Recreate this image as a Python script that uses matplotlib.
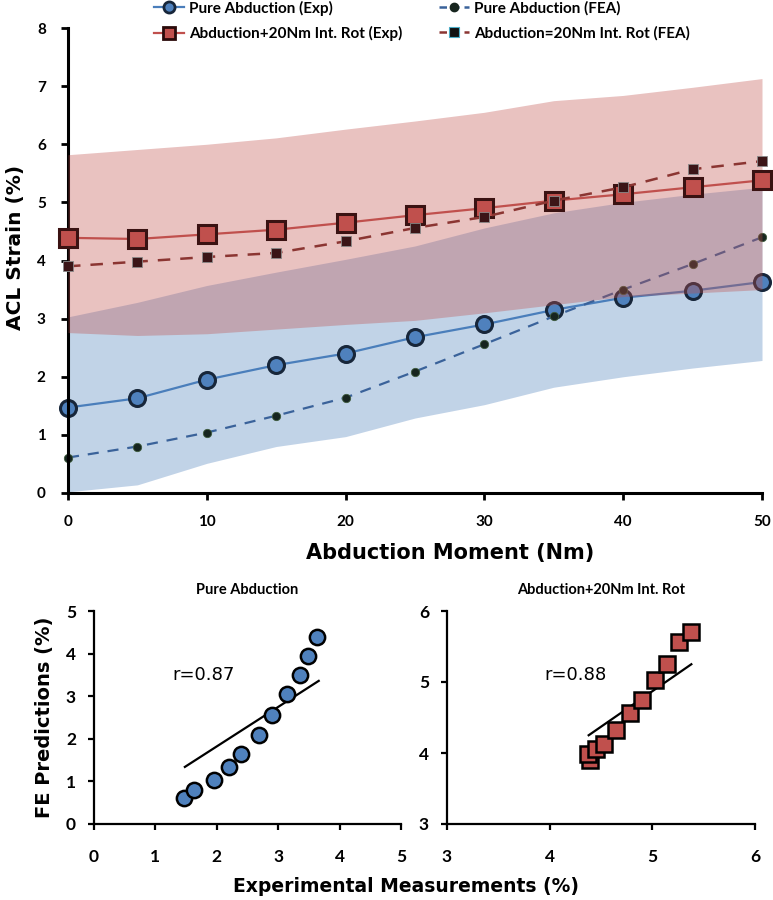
import numpy as np
import matplotlib
matplotlib.use('Agg')
import matplotlib.pyplot as plt
from matplotlib.lines import Line2D

# abduction moment (Nm)
moment = [0, 5, 10, 15, 20, 25, 30, 35, 40, 45, 50]

# pure abduction
pure_exp = [1.47, 1.63, 1.95, 2.20, 2.40, 2.68, 2.90, 3.15, 3.36, 3.48, 3.63]
pure_fea = [0.61, 0.80, 1.04, 1.33, 1.64, 2.09, 2.56, 3.04, 3.50, 3.94, 4.40]
pure_lo = [0.02, 0.14, 0.51, 0.80, 0.97, 1.29, 1.52, 1.82, 2.00, 2.15, 2.28]
pure_hi = [3.03, 3.28, 3.57, 3.80, 4.02, 4.25, 4.56, 4.82, 5.00, 5.14, 5.26]

# abduction + 20Nm internal rotation
rot_exp = [4.39, 4.37, 4.45, 4.53, 4.65, 4.78, 4.90, 5.03, 5.14, 5.26, 5.38]
rot_fea = [3.90, 3.98, 4.06, 4.13, 4.33, 4.56, 4.75, 5.03, 5.26, 5.57, 5.71]
rot_lo = [2.76, 2.71, 2.74, 2.82, 2.90, 2.97, 3.10, 3.24, 3.38, 3.44, 3.50]
rot_hi = [5.82, 5.91, 6.00, 6.11, 6.26, 6.40, 6.55, 6.75, 6.84, 6.98, 7.13]

# trend lines drawn in the correlation plots (end points)
pure_line_x = [1.48, 3.66]
pure_line_y = [1.34, 3.36]
rot_line_x = [4.38, 5.38]
rot_line_y = [4.25, 5.25]
pure_r = 'r=0.87'
rot_r = 'r=0.88'

BLUE = '#4f81bd'
RED = '#c0504d'
tick_font = ['Lato', 'DejaVu Sans']

fig = plt.figure(figsize=(7.73, 9.0), dpi=100)

# ---------- top chart ----------
ax = fig.add_axes([68 / 773, 1 - 493 / 900, 694 / 773, 465 / 900])

ax.fill_between(moment, pure_lo, pure_hi, color=BLUE, alpha=0.35, lw=0, zorder=1)
ax.plot(moment, pure_exp, color='#4a7ebb', lw=1.6, marker='o', ms=11.5,
        mfc=BLUE, mec='#17263a', mew=2.2, clip_on=False, zorder=2)
ax.plot(moment, pure_fea, color='#3a629a', lw=1.6, ls=(0, (5, 4)), marker='o',
        ms=6, mfc='#17251f', mec='#3d5a3d', mew=0.6, clip_on=False, zorder=2)

ax.fill_between(moment, rot_lo, rot_hi, color=RED, alpha=0.35, lw=0, zorder=3)
ax.plot(moment, rot_exp, color=RED, lw=1.6, marker='s', ms=13,
        mfc=RED, mec='#3a1212', mew=2.2, clip_on=False, zorder=4)
ax.plot(moment, rot_fea, color='#8b3532', lw=1.8, ls=(0, (5, 4)), marker='s',
        ms=7.5, mfc='#3b1517', mec='#8a8a8a', mew=0.6, clip_on=False, zorder=5)

ax.set_xlim(0, 50)
ax.set_ylim(0, 8)
ax.set_xticks(range(0, 51, 10))
ax.set_yticks(range(0, 9))
for s in ['top', 'right']:
    ax.spines[s].set_visible(False)
for s in ['left', 'bottom']:
    ax.spines[s].set_linewidth(2.2)
ax.tick_params(direction='out', length=5, width=2, labelsize=11, pad=11)
for lab in ax.get_xticklabels() + ax.get_yticklabels():
    lab.set_family(tick_font)
    lab.set_fontweight('bold')

fig.text(16 / 773, 1 - 247 / 900, 'ACL Strain (%)', rotation=90, ha='center',
         va='center', fontsize=14.5, fontweight='bold', family='DejaVu Sans')
fig.text(450 / 773, 1 - 553 / 900, 'Abduction Moment (Nm)', ha='center',
         va='center', fontsize=15, fontweight='bold', family='DejaVu Sans')

# legend
handles = [
    Line2D([], [], color='#4a7ebb', lw=1.6, marker='o', ms=8, mfc=BLUE, mec='#17263a', mew=2),
    Line2D([], [], color=RED, lw=1.6, marker='s', ms=8, mfc=RED, mec='#2a0a0a', mew=2),
    Line2D([], [], color='#3a629a', lw=1.8, ls=(0, (3, 2)), marker='o', ms=6,
           mfc='#17251f', mec='#17251f'),
    Line2D([], [], color='#8b3532', lw=1.8, ls=(0, (3, 2)), marker='s', ms=7,
           mfc='#111111', mec='#4bacc6', mew=0.8),
]
labels = ['Pure Abduction (Exp)', 'Abduction+20Nm Int. Rot (Exp)',
          'Pure Abduction (FEA)', 'Abduction=20Nm Int. Rot (FEA)']
fig.legend(handles, labels, ncol=2, loc='upper left', bbox_to_anchor=(146 / 773, 1.008),
           frameon=False, handlelength=2.0, handletextpad=0.3, columnspacing=2.4,
           labelspacing=0.7, borderpad=0,
           prop={'family': tick_font, 'weight': 'bold', 'size': 11})

# ---------- correlation plots ----------
ax_l = fig.add_axes([94 / 773, 1 - 824 / 900, 307 / 773, 213 / 900])
ax_r = fig.add_axes([447 / 773, 1 - 824 / 900, 308 / 773, 213 / 900])

ax_l.plot(pure_line_x, pure_line_y, color='black', lw=1.6, zorder=2)
ax_l.plot(pure_exp, pure_fea, ls='none', marker='o', ms=11, mfc=BLUE,
          mec='black', mew=1.8, zorder=3, clip_on=False)
ax_l.text(1.27, 3.49, pure_r, fontsize=13, va='center', family='DejaVu Sans')
ax_l.set_xlim(0, 5)
ax_l.set_ylim(0, 5)
ax_l.set_title('Pure Abduction', fontsize=10.5, fontweight='bold', family=tick_font, pad=12)

ax_r.plot(rot_line_x, rot_line_y, color='black', lw=1.6, zorder=2)
ax_r.plot(rot_exp, rot_fea, ls='none', marker='s', ms=12, mfc=RED,
          mec='black', mew=1.8, zorder=3, clip_on=False)
ax_r.text(3.95, 5.10, rot_r, fontsize=13, va='center', family='DejaVu Sans')
ax_r.set_xlim(3, 6)
ax_r.set_ylim(3, 6)
ax_r.set_title('Abduction+20Nm Int. Rot', fontsize=10.5, fontweight='bold', family=tick_font, pad=12)

for a in [ax_l, ax_r]:
    a.set_xticks(np.arange(a.get_xlim()[0], a.get_xlim()[1] + 1))
    a.set_yticks(np.arange(a.get_ylim()[0], a.get_ylim()[1] + 1))
    for s in ['top', 'right']:
        a.spines[s].set_visible(False)
    for s in ['left', 'bottom']:
        a.spines[s].set_linewidth(1.6)
    a.tick_params(axis='x', direction='out', length=4, width=1.6, labelsize=12.5, pad=14)
    a.tick_params(axis='y', direction='out', length=4, width=1.6, labelsize=12.5, pad=9)
    for lab in a.get_xticklabels() + a.get_yticklabels():
        lab.set_family(tick_font)
        lab.set_fontweight('bold')

fig.text(45 / 773, 1 - 717 / 900, 'FE Predictions (%)', rotation=90, ha='center',
         va='center', fontsize=14, fontweight='bold', family='DejaVu Sans')
fig.text(406 / 773, 1 - 886 / 900, 'Experimental Measurements (%)', ha='center',
         va='center', fontsize=13.5, fontweight='bold', family='DejaVu Sans')

fig.savefig('out.png', dpi=100)
